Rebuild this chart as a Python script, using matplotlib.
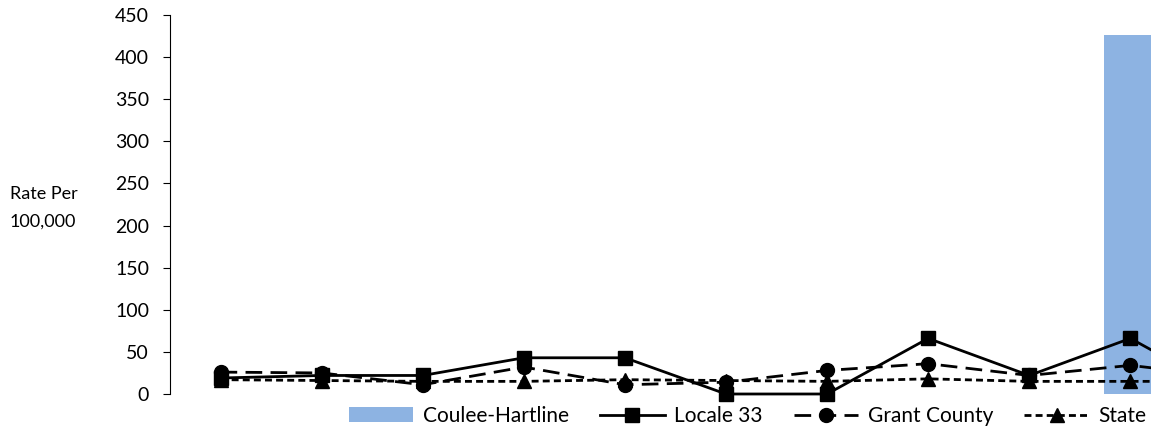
import matplotlib
matplotlib.use("Agg")
import matplotlib.pyplot as plt
import numpy as np

plt.rcParams['font.family'] = ['Lato', 'DejaVu Sans']

# valeurs (la dernière catégorie est coupée à droite)
categories = list(range(11))
coulee_hartline = [0, 0, 0, 0, 0, 0, 0, 0, 0, 426, 0]
locale_33 = [19, 22, 22, 43, 43, 0, 0, 66, 22, 66, 0]
grant_county = [26, 25, 11, 32, 11, 14, 28, 36, 22, 34, 20]
state = [17, 16, 15, 15, 17, 16, 15, 18, 15, 15, 15]
yticks = list(range(0, 451, 50))

fig = plt.figure(figsize=(11.51, 4.32), dpi=100)
# l'axe déborde à droite de la figure, comme dans l'image d'origine
ax = fig.add_axes([170 / 1151, 38 / 432, 1112 / 1151, 379 / 432])

x = np.arange(len(categories))
bars = ax.bar(x, coulee_hartline, width=0.52, color='#8DB3E2', label='Coulee-Hartline', zorder=1)
l1, = ax.plot(x, locale_33, color='black', lw=2, marker='s', ms=10, label='Locale 33',
              zorder=3, clip_on=False)
l2, = ax.plot(x, grant_county, color='black', lw=2, dashes=(6, 3), marker='o', ms=10,
              label='Grant County', zorder=3, clip_on=False)
l3, = ax.plot(x, state, color='black', lw=2, dashes=(2.5, 1.5), marker='^', ms=10,
              label='State', zorder=3, clip_on=False)

ax.set_xlim(-0.5, len(categories) - 0.5)
ax.set_ylim(0, 450)
ax.set_yticks(yticks)
ax.set_xticks([])
ax.tick_params(axis='y', labelsize=14, length=5, direction='out', pad=10)
for s in ['top', 'right', 'bottom']:
    ax.spines[s].set_visible(False)

fig.text(10 / 1151, 1 - 208 / 432, "Rate Per\n100,000", fontsize=13,
         ha='left', va='center', linespacing=1.9)

fig.legend(handles=[bars, l1, l2, l3],
           labels=['Coulee-Hartline', 'Locale 33', 'Grant County', 'State'],
           loc='center left', bbox_to_anchor=(330 / 1151, 1 - 416 / 432), ncol=4,
           frameon=False, fontsize=15, handlelength=3.1, columnspacing=1.5,
           handletextpad=0.45)

fig.savefig("out.png", dpi=100)
